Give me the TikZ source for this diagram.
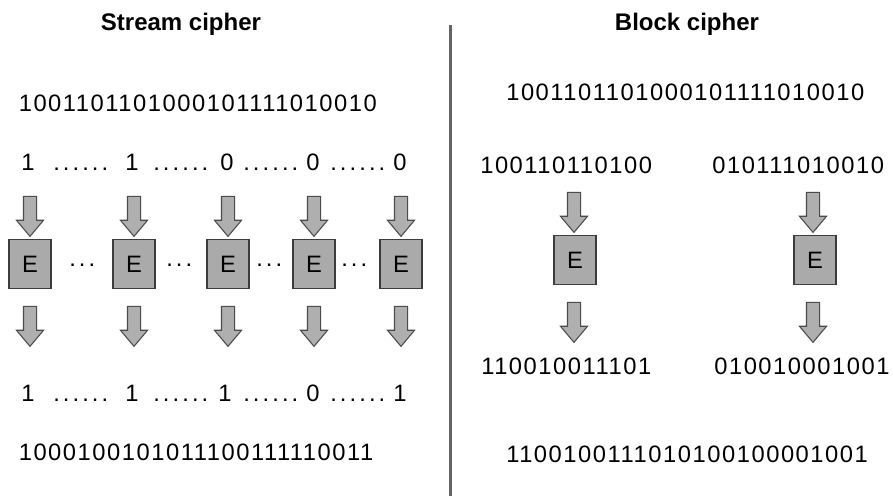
\documentclass[tikz,border=0pt]{standalone}
\usepackage{fontspec}
\setmainfont{Liberation Sans}
\newfontfamily\bitfont[LetterSpace=6.5]{Liberation Sans}
\newfontfamily\dotfont[LetterSpace=13]{Liberation Sans}
\usetikzlibrary{shapes.arrows}

\tikzset{
  title/.style={anchor=base, inner sep=0pt, font={\bfseries\fontsize{18pt}{21pt}\selectfont}},
  bits/.style={anchor=base, inner sep=0pt, font={\bitfont\fontsize{17.8pt}{21pt}\selectfont}},
  gap/.style={anchor=base west, inner sep=0pt, font={\dotfont\fontsize{17.8pt}{21pt}\selectfont}},
  ebox/.style={draw={rgb, 255:red, 60; green, 60; blue, 60}, fill={rgb, 255:red, 170; green, 170; blue, 170},
    line width=1pt, minimum width=31.5pt, minimum height=36.75pt, inner sep=0pt,
    font={\fontsize{17.8pt}{21pt}\selectfont}},
  downarr/.style={single arrow, rotate=-90, draw={rgb, 255:red, 75; green, 75; blue, 75},
    fill={rgb, 255:red, 175; green, 175; blue, 175}, line width=0.8pt, inner sep=4.5pt,
    minimum height=30pt, single arrow head extend=5.25pt, single arrow tip angle=80},
  divider/.style={line width=2.25pt, color={rgb, 255:red, 100; green, 100; blue, 100}}
}

\begin{document}
\begin{tikzpicture}[x=0.75pt,y=0.75pt,yscale=-1]
\useasboundingbox (0,0) rectangle (893,496);

% Titles
\node[title] (tstream) at (181,31) {Stream cipher};
\node[title] (tblock) at (687,31) {Block cipher};

% Divider
\draw[divider] (450,25) -- (450,496);

% Stream cipher: plaintext
\node[bits, anchor=base west] (splain) at (18.5,111) {1001101101000101111010010};

\node[bits] (i1) at (28,170) {1};
\node[gap] (g1) at (53,170) {......};
\node[bits] (i2) at (132,170) {1};
\node[gap] (g2) at (153,170) {......};
\node[bits] (i3) at (227,170) {0};
\node[gap] (g3) at (243,170) {......};
\node[bits] (i4) at (313,170) {0};
\node[gap] (g4) at (330,170) {......};
\node[bits] (i5) at (400,170) {0};

% Stream cipher: encryption boxes
\node[ebox] (e1) at (30,264) {E};
\node[ebox] (e2) at (134,264) {E};
\node[ebox] (e3) at (228,264) {E};
\node[ebox] (e4) at (314,264) {E};
\node[ebox] (e5) at (401,264) {E};

\node[gap] (d1) at (69,266) {...};
\node[gap] (d2) at (166,266) {...};
\node[gap] (d3) at (256,266) {...};
\node[gap] (d4) at (341,266) {...};

\node[downarr] (a1) at (30,212.5) {};
\node[downarr] (a2) at (134,212.5) {};
\node[downarr] (a3) at (228,212.5) {};
\node[downarr] (a4) at (314,212.5) {};
\node[downarr] (a5) at (401,212.5) {};

\node[downarr] (b1) at (30,322.5) {};
\node[downarr] (b2) at (134,322.5) {};
\node[downarr] (b3) at (228,322.5) {};
\node[downarr] (b4) at (314,322.5) {};
\node[downarr] (b5) at (401,322.5) {};

% Stream cipher: ciphertext
\node[bits] (o1) at (28,401) {1};
\node[gap] (h1) at (53,401) {......};
\node[bits] (o2) at (132,401) {1};
\node[gap] (h2) at (153,401) {......};
\node[bits] (o3) at (225,401) {1};
\node[gap] (h3) at (243,401) {......};
\node[bits] (o4) at (313,401) {0};
\node[gap] (h4) at (330,401) {......};
\node[bits] (o5) at (400,401) {1};

\node[bits, anchor=base west] (scipher) at (18.5,460) {1000100101011100111110011};

% Block cipher
\node[bits, anchor=base west] (bplain) at (506,100) {1001101101000101111010010};
\node[bits, anchor=base west] (bl1) at (480,173) {100110110100};
\node[bits, anchor=base west] (bl2) at (712,173) {010111010010};

\node[downarr] (ra1) at (574,208.5) {};
\node[downarr] (ra2) at (813,208.5) {};

\node[ebox] (be1) at (575,260) {E};
\node[ebox] (be2) at (815,260) {E};

\node[downarr] (rb1) at (574,318.5) {};
\node[downarr] (rb2) at (813,318.5) {};

\node[bits, anchor=base west] (bo1) at (481,374) {110010011101};
\node[bits, anchor=base west] (bo2) at (714,374) {010010001001};
\node[bits, anchor=base west] (bcipher) at (506,462) {1100100111010100100001001};

\end{tikzpicture}
\end{document}
